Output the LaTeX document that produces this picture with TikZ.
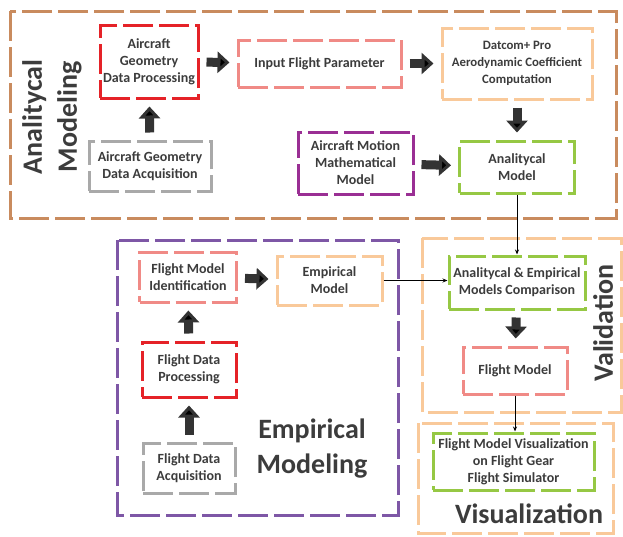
\documentclass[tikz,border=0pt]{standalone}
\usepackage{fontspec}
\setmainfont{Carlito}
\usetikzlibrary{arrows.meta}

\definecolor{brownline}{HTML}{C98B5E}
\definecolor{redline}{HTML}{E52228}
\definecolor{pinkline}{HTML}{F08A86}
\definecolor{peachline}{HTML}{F9C99A}
\definecolor{plumline}{HTML}{9A2F94}
\definecolor{violetline}{HTML}{7E57A6}
\definecolor{grayline}{HTML}{A9A9A9}
\definecolor{greenline}{HTML}{96C844}
\definecolor{textgray}{HTML}{3C3C3C}
\definecolor{arrowgray}{HTML}{333333}

\begin{document}
\begin{tikzpicture}[x=1pt,y=-1pt,
	main node/.style={draw,line width=3pt,dash pattern=on 30pt off 6pt,fill=white,align=center,inner sep=2pt,text=textgray,font=\bfseries\fontsize{14}{17}\selectfont},
	group box/.style={line width=3pt,dash pattern=on 30pt off 6pt},
	big label/.style={align=center,text=textgray,font=\bfseries\fontsize{28}{35}\selectfont},
	block arrow/.style={draw=arrowgray,line width=9pt,-{Triangle[length=12pt,width=21pt]},shorten <=7pt,shorten >=7pt},
	thin arrow/.style={draw=black,line width=0.8pt,-{Stealth[length=5pt,width=4pt]}}]
		\useasboundingbox (0,0) rectangle (623,536);
		% group boxes
		\draw[group box,brownline] (10,11) rectangle (616,218);
		\draw[group box,violetline] (117,240) rectangle (398,515);
		\draw[group box,peachline] (422,238) rectangle (621,412);
		\draw[group box,peachline] (418,423) rectangle (613,533);
		\node[big label,rotate=90] (am) at (52,117) {Analitycal\\Modeling};
		\node[big label] (em) at (312,449) {Empirical\\Modeling};
		\node[big label,rotate=90] (va) at (603,323) {Validation};
		\node[big label] (vi) at (529,514) {Visualization};
		% analytical modeling
		\node[main node,draw=redline,minimum width=98pt,minimum height=73pt] (1) at (149,61.5) {Aircraft\\Geometry\\Data Processing};
		\node[main node,draw=grayline,minimum width=122pt,minimum height=50pt] (2) at (150,166) {Aircraft Geometry\\Data Acquisition};
		\node[main node,draw=pinkline,minimum width=163pt,minimum height=47pt] (3) at (319.5,63.5) {Input Flight Parameter};
		\node[main node,draw=peachline,minimum width=150pt,minimum height=71pt,font=\bfseries\fontsize{12.8}{17}\selectfont] (4) at (517,63.5) {Datcom+ Pro\\Aerodynamic Coefficient\\Computation};
		\node[main node,draw=plumline,minimum width=115pt,minimum height=62pt] (5) at (355.5,163) {Aircraft Motion\\Mathematical\\Model};
		\node[main node,draw=greenline,minimum width=115pt,minimum height=52pt] (6) at (517,167) {Analitycal\\Model};
		% empirical modeling
		\node[main node,draw=pinkline,minimum width=97pt,minimum height=50pt] (7) at (188,277) {Flight Model\\Identification};
		\node[main node,draw=peachline,minimum width=105pt,minimum height=49pt] (8) at (329.5,280.5) {Empirical\\Model};
		\node[main node,draw=redline,minimum width=94pt,minimum height=55pt] (9) at (189,369.5) {Flight Data\\Processing};
		\node[main node,draw=grayline,minimum width=92pt,minimum height=50pt] (10) at (189,468) {Flight Data\\Acquisition};
		% validation and visualization
		\node[main node,draw=greenline,minimum width=136pt,minimum height=53pt] (11) at (517,282.5) {Analitycal \& Empirical\\Models Comparison};
		\node[main node,draw=pinkline,minimum width=104pt,minimum height=47pt] (12) at (515,370.5) {Flight Model};
		\node[main node,draw=greenline,minimum width=161pt,minimum height=57pt] (13) at (513.5,461.5) {Flight Model Visualization\\on Flight Gear\\Flight Simulator};
		\path[block arrow]
		(2) edge (1)
		(1) edge (3)
		(3) edge (4)
		(4) edge (6)
		(5) edge (6)
		(9) edge (7)
		(10) edge (9)
		(7) edge (8)
		(11) edge (12);
		\path[thin arrow]
		(6) edge (11)
		(8) edge (8.east -| 11.west);
		\draw[thin arrow] (12) -- (12 |- 13.north);
		\end{tikzpicture}
\end{document}
